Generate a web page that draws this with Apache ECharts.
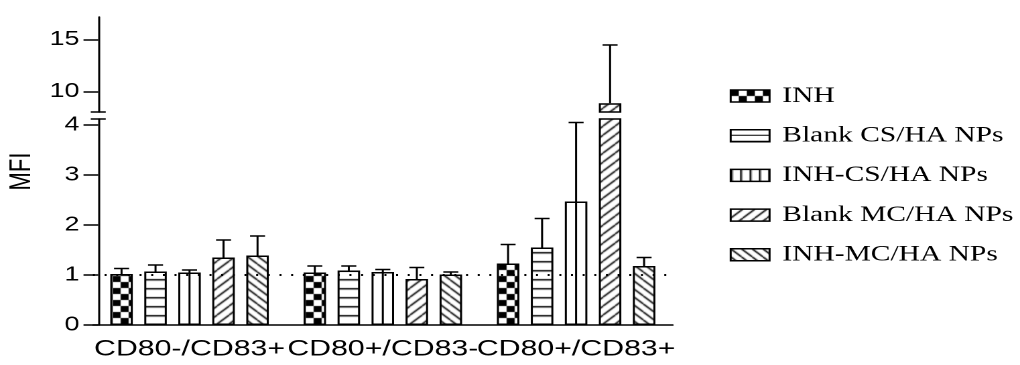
<!DOCTYPE html>
<html>
<head>
<meta charset="utf-8">
<script src="https://cdn.jsdelivr.net/npm/echarts@6/dist/echarts.min.js"></script>
<style>
html,body{margin:0;padding:0;background:#fff;}
#wrap{width:1020px;height:365px;overflow:hidden;}
#c{width:761px;height:365px;transform-origin:0 0;}
</style>
</head>
<body>
<div id="wrap"><div id="c"></div></div>
<script>
// ---- data ----
const categories = ['CD80-/CD83+', 'CD80+/CD83-', 'CD80+/CD83+'];
const seriesNames = ['INH', 'Blank CS/HA NPs', 'INH-CS/HA NPs', 'Blank MC/HA NPs', 'INH-MC/HA NPs'];
const inhMean     = [1.02, 1.05, 1.23];
const inhSd       = [0.11, 0.13, 0.38];
const blankCsMean = [1.07, 1.09, 1.55];
const blankCsSd   = [0.13, 0.09, 0.58];
const inhCsMean   = [1.05, 1.06, 2.47];
const inhCsSd     = [0.05, 0.05, 1.58];
const blankMcMean = [1.35, 0.92, 8.85];
const blankMcSd   = [0.35, 0.23, 5.64];
const inhMcMean   = [1.39, 1.01, 1.18];
const inhMcSd     = [0.39, 0.05, 0.17];
const lowerTicks = [0, 1, 2, 3, 4];
const upperTicks = [10, 15];
const lowerRange = [0, 4.12];
const upperRange = [8, 17.2];
const refLine = 1;
const yName = 'MFI';

const means = [inhMean, blankCsMean, inhCsMean, blankMcMean, inhMcMean];
const sds = [inhSd, blankCsSd, inhCsSd, blankMcSd, inhMcSd];

// ---- layout (chart drawn in a narrower box, then stretched horizontally) ----
const SX = 1020 / 761;
document.getElementById('c').style.transform = 'scaleX(' + SX + ')';
const barW = 22.5 / SX;
const gap = 11.5 / SX;
const capW = 15 / SX;
const FONT = "'Liberation Sans', Arial, sans-serif";
const SERIF = "'Liberation Serif', 'Times New Roman', serif";

function tile(w, h, draw) {
  const c = document.createElement('canvas');
  c.width = w; c.height = h;
  const ctx = c.getContext('2d');
  ctx.fillStyle = '#fff'; ctx.fillRect(0, 0, w, h);
  ctx.fillStyle = '#000'; ctx.strokeStyle = '#000';
  draw(ctx, w, h);
  return { image: c, repeat: 'repeat' };
}
const checker = tile(12, 12, (x) => { x.fillRect(0, 0, 6, 6); x.fillRect(6, 6, 6, 6); });
const hStripe = tile(4, 9, (x) => { x.fillRect(0, 0, 4, 1.5); });
const legendHStripe = tile(4, 6, (x) => { x.fillRect(0, 5, 4, 1.5); });
const vStripe = tile(7, 4, (x) => { x.fillRect(0, 0, 1.4, 4); });
const fwd = tile(9, 9, (x, w, h) => {
  x.lineWidth = 1.3; x.beginPath();
  for (const k of [-w, 0, w]) { x.moveTo(k, h); x.lineTo(k + w, 0); }
  x.stroke();
});
const back = tile(8, 8, (x, w, h) => {
  x.lineWidth = 1.3; x.beginPath();
  for (const k of [-w, 0, w]) { x.moveTo(k, 0); x.lineTo(k + w, h); }
  x.stroke();
});
const fills = [checker, hStripe, '#fff', fwd, back];
const centerLineSeries = 2;

const gridLeft = 69.3, gridWidth = 432.6;

function barSeries(gi, filterFn) {
  return seriesNames.map((n, i) => ({
    type: 'bar', name: n, xAxisIndex: gi, yAxisIndex: gi,
    data: means[i].map(v => filterFn(v) ? v : '-'),
    barWidth: barW, barGap: (gap / barW * 100) + '%',
    itemStyle: { color: fills[i], borderColor: '#000', borderWidth: 1.5 },
    emphasis: { disabled: true },
    z: 2
  }));
}

function errData(filterFn) {
  const out = [];
  means.forEach((arr, si) => arr.forEach((m, ci) => {
    if (filterFn(m)) out.push([ci, si, m, sds[si][ci]]);
  }));
  return out;
}

function renderErr(params, api) {
  const cat = api.value(0), si = api.value(1), m = api.value(2), sd = api.value(3);
  const base = api.coord([cat, m]);
  const x = base[0] + (si - 2) * (barW + gap);
  const yTop = api.coord([cat, m + sd])[1];
  const yBot = si === centerLineSeries ? api.coord([cat, lowerRange[0]])[1] : base[1];
  return {
    type: 'group', children: [
      { type: 'line', shape: { x1: x, y1: yBot, x2: x, y2: yTop }, style: { stroke: '#000', lineWidth: 1.5 } },
      { type: 'line', shape: { x1: x - capW / 2, y1: yTop, x2: x + capW / 2, y2: yTop }, style: { stroke: '#000', lineWidth: 1.5 } }
    ]
  };
}

const allValues = () => true;
const inUpper = v => v > lowerRange[1];
const inLower = v => v <= lowerRange[1];

const axisLineStyle = { color: '#000', width: 1.5 };

const option = {
  animation: false,
  backgroundColor: '#fff',
  grid: [
    { left: gridLeft, width: gridWidth, top: 17, height: 95 },
    { left: gridLeft, width: gridWidth, top: 119, height: 206 }
  ],
  xAxis: [
    { type: 'category', gridIndex: 0, data: categories, show: false },
    {
      type: 'category', gridIndex: 1, data: categories,
      axisLine: { lineStyle: axisLineStyle },
      axisTick: { alignWithLabel: true, length: 10, lineStyle: axisLineStyle },
      axisLabel: { interval: 0, margin: 13, color: '#000', fontFamily: FONT, fontSize: 22.6 },
      splitLine: { show: false }
    }
  ],
  yAxis: [
    {
      type: 'value', gridIndex: 0, min: upperRange[0], max: upperRange[1], offset: -4,
      axisLine: { show: true, lineStyle: axisLineStyle, symbol: ['rect', 'none'], symbolSize: [capW, 1.5] },
      axisTick: { show: true, length: 11, lineStyle: axisLineStyle, customValues: upperTicks },
      axisLabel: { margin: 14, color: '#000', fontFamily: FONT, fontSize: 20, customValues: upperTicks },
      splitLine: { show: false }
    },
    {
      type: 'value', gridIndex: 1, min: lowerRange[0], max: lowerRange[1], offset: -4,
      axisLine: { show: true, lineStyle: axisLineStyle, symbol: ['none', 'rect'], symbolSize: [capW, 1.5] },
      axisTick: { show: true, length: 11, lineStyle: axisLineStyle, customValues: lowerTicks },
      axisLabel: { margin: 14, color: '#000', fontFamily: FONT, fontSize: 20, customValues: lowerTicks },
      splitLine: { show: false }
    }
  ],
  legend: {
    orient: 'vertical', left: 539.4, top: 79,
    icon: 'rect', itemWidth: 29, itemHeight: 12, itemGap: 15.7,
    selectedMode: false,
    itemStyle: { borderColor: '#000', borderWidth: 1.5 },
    textStyle: { fontFamily: SERIF, fontSize: 22, color: '#000', lineHeight: 24, padding: [0, 0, 0, 4.5] },
    data: seriesNames.map((n, i) => {
      if (i === centerLineSeries) return { name: n, itemStyle: { color: vStripe, borderColor: '#000', borderWidth: 1.5 } };
      if (i === 1) return { name: n, itemStyle: { color: legendHStripe, borderColor: '#000', borderWidth: 1.5 } };
      return { name: n };
    })
  },
  graphic: [{
    type: 'text', x: 16.4, y: 171.5, rotation: Math.PI / 2,
    style: { text: yName, font: '22px ' + FONT, fill: '#000', align: 'center', verticalAlign: 'middle' }
  }],
  series: [
    {
      type: 'line', xAxisIndex: 1, yAxisIndex: 1, data: [], z: 1, silent: true,
      markLine: {
        silent: true, symbol: 'none', label: { show: false },
        lineStyle: { color: '#000', width: 2, type: [1.5, 7.2] },
        emphasis: { disabled: true },
        data: [{ yAxis: refLine }]
      }
    },
    ...barSeries(1, allValues),
    ...barSeries(0, inUpper),
    {
      type: 'custom', xAxisIndex: 1, yAxisIndex: 1, z: 3, silent: true,
      encode: { x: 0, y: 2 }, renderItem: renderErr, data: errData(inLower)
    },
    {
      type: 'custom', xAxisIndex: 0, yAxisIndex: 0, z: 3, silent: true,
      encode: { x: 0, y: 2 }, renderItem: renderErr, data: errData(inUpper)
    }
  ]
};

const chart = echarts.init(document.getElementById('c'), null, { renderer: 'canvas', devicePixelRatio: 2 });
chart.setOption(option);
</script>
</body>
</html>
